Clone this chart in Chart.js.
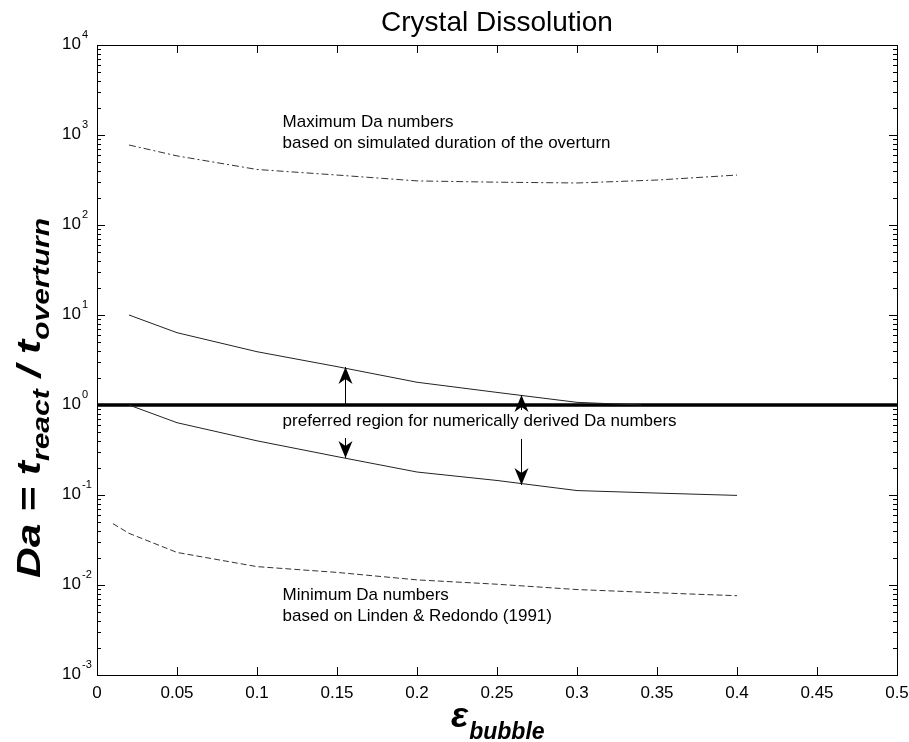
<!DOCTYPE html>
<html><head><meta charset="utf-8">
<script src="https://cdn.jsdelivr.net/npm/chart.js@4/dist/chart.umd.min.js"></script>
<style>html,body{margin:0;padding:0;background:#fff;overflow:hidden}</style>
</head><body>
<canvas id="c" width="909" height="742"></canvas>
<script>
// ---- data ----
const xTickLabels = ['0','0.05','0.1','0.15','0.2','0.25','0.3','0.35','0.4','0.45','0.5'];
const yTickValues = [1e-3,1e-2,1e-1,1e0,1e1,1e2,1e3,1e4];
const yTickExponents = ['-3','-2','-1','0','1','2','3','4'];

const xMax = [0.02,0.05,0.1,0.15,0.2,0.25,0.3,0.35,0.4];
const daMax = [774,586,414,359,309,299,293,316,359];

const xUpper = [0.02,0.05,0.1,0.15,0.2,0.25,0.3,0.34];
const daUpper = [10,6.36,3.91,2.67,1.79,1.38,1.07,1.0];

const xLower = [0.02,0.05,0.1,0.15,0.2,0.25,0.3,0.35,0.4];
const daLower = [1.0,0.636,0.40,0.267,0.18,0.145,0.112,0.105,0.099];

const xMin = [0.01,0.02,0.05,0.1,0.15,0.2,0.25,0.3,0.35,0.4];
const daMin = [0.048,0.0375,0.023,0.016,0.0138,0.0114,0.0102,0.0089,0.0082,0.0076];

const xUnity = [0,0.5];
const daUnity = [1,1];

// arrows: x position, start value, tip value
const arrowX = [0.155,0.155,0.265,0.265];
const arrowFrom = [1.0,0.43,0.88,0.42];
const arrowTo = [2.64,0.258,1.29,0.129];

const titleText = 'Crystal Dissolution';
const noteMaxLines = ['Maximum Da numbers','based on simulated duration of the overturn'];
const noteMidLines = ['preferred region for numerically derived Da numbers'];
const noteMinLines = ['Minimum Da numbers','based on Linden & Redondo (1991)'];

// ---- helpers ----
const pts = (xs, ys) => xs.map((x, i) => ({x, y: ys[i]}));
const FONT = '"Liberation Sans", Arial, Helvetica, sans-serif';

const notes = [
  {lines: noteMaxLines, x: 0.116, y: 1400},
  {lines: noteMidLines, x: 0.116, y: 0.665},
  {lines: noteMinLines, x: 0.116, y: 0.0077}
];

const decor = {
  id: 'decor',
  afterDatasetsDraw(chart) {
    const ctx = chart.ctx;
    const a = chart.chartArea;
    const xs = chart.scales.x, ys = chart.scales.y;
    ctx.save();
    ctx.strokeStyle = '#000';
    ctx.fillStyle = '#000';
    ctx.lineWidth = 1;

    // box
    ctx.strokeRect(Math.round(a.left) + 0.5, Math.round(a.top) + 0.5,
                   Math.round(a.right - a.left), Math.round(a.bottom - a.top));

    // x ticks (inward, top and bottom)
    ctx.beginPath();
    for (let i = 0; i < xTickLabels.length; i++) {
      const px = Math.round(xs.getPixelForValue(i * 0.05)) + 0.5;
      ctx.moveTo(px, a.bottom); ctx.lineTo(px, a.bottom - 8);
      ctx.moveTo(px, a.top); ctx.lineTo(px, a.top + 8);
    }
    // y ticks major + minor
    for (let d = -3; d <= 4; d++) {
      const py = Math.round(ys.getPixelForValue(Math.pow(10, d))) + 0.5;
      ctx.moveTo(a.left, py); ctx.lineTo(a.left + 8, py);
      ctx.moveTo(a.right, py); ctx.lineTo(a.right - 8, py);
      if (d < 4) {
        for (let m = 2; m <= 9; m++) {
          const pm = Math.round(ys.getPixelForValue(m * Math.pow(10, d))) + 0.5;
          ctx.moveTo(a.left, pm); ctx.lineTo(a.left + 4, pm);
          ctx.moveTo(a.right, pm); ctx.lineTo(a.right - 4, pm);
        }
      }
    }
    ctx.stroke();

    // y tick labels 10^n
    for (let i = 0; i < yTickValues.length; i++) {
      const py = ys.getPixelForValue(yTickValues[i]);
      ctx.font = '17px ' + FONT;
      ctx.textAlign = 'right';
      ctx.textBaseline = 'middle';
      ctx.fillText('10', 81, py - 1);
      ctx.font = '11px ' + FONT;
      ctx.textAlign = 'left';
      ctx.fillText(yTickExponents[i], 82, py - 10);
    }

    // arrows
    for (let i = 0; i < arrowX.length; i++) {
      const px = Math.round(xs.getPixelForValue(arrowX[i])) + 0.5;
      const y0 = ys.getPixelForValue(arrowFrom[i]);
      const y1 = ys.getPixelForValue(arrowTo[i]);
      const dir = y1 < y0 ? -1 : 1;
      ctx.beginPath();
      ctx.moveTo(px, y0); ctx.lineTo(px, y1);
      ctx.stroke();
      const L = 17, W = 7, N = 5;
      ctx.beginPath();
      ctx.moveTo(px, y1);
      ctx.lineTo(px - W, y1 - dir * L);
      ctx.lineTo(px, y1 - dir * (L - N));
      ctx.lineTo(px + W, y1 - dir * L);
      ctx.closePath();
      ctx.fill();
    }

    // notes
    ctx.font = '17px ' + FONT;
    ctx.textAlign = 'left';
    ctx.textBaseline = 'middle';
    for (const n of notes) {
      const px = xs.getPixelForValue(n.x);
      const py = ys.getPixelForValue(n.y);
      n.lines.forEach((t, k) => ctx.fillText(t, px, py + k * 21));
    }

    // title
    ctx.font = '28px ' + FONT;
    ctx.textAlign = 'center';
    ctx.textBaseline = 'middle';
    ctx.fillText(titleText, (a.left + a.right) / 2, 23);

    // x axis title: epsilon_bubble
    ctx.textAlign = 'left';
    ctx.textBaseline = 'alphabetic';
    const mainX = 'bold italic 36px ' + FONT, subX = 'bold italic 23px ' + FONT;
    ctx.font = mainX; const wE = ctx.measureText('\u03b5').width;
    ctx.font = subX; const wB = ctx.measureText('bubble').width;
    let sx = 451;
    ctx.font = mainX; ctx.fillText('\u03b5', sx, 727);
    ctx.font = subX; ctx.fillText('bubble', sx + wE + 1, 739);

    // y axis title: Da = t_react / t_overturn
    const segs = [
      {t: 'Da = t', f: 'bold italic 34px ' + FONT, dy: 0},
      {t: 'react', f: 'bold italic 24px ' + FONT, dy: 9},
      {t: ' / t', f: 'bold italic 34px ' + FONT, dy: 0},
      {t: 'overturn', f: 'bold italic 24px ' + FONT, dy: 9}
    ];
    let total = 0;
    segs.forEach(s => { ctx.font = s.f; s.w = ctx.measureText(s.t).width; total += s.w; });
    const targetLen = 360;
    const stretch = targetLen / total;
    ctx.translate(40, 398);
    ctx.rotate(-Math.PI / 2);
    ctx.scale(stretch, 1);
    let cx = -total / 2;
    segs.forEach(s => { ctx.font = s.f; ctx.fillText(s.t, cx, s.dy); cx += s.w; });
    ctx.restore();
  }
};

new Chart(document.getElementById('c'), {
  type: 'line',
  data: {
    datasets: [
      {label: 'Maximum Da', data: pts(xMax, daMax), borderColor: '#333', borderWidth: 1, borderDash: [7,3,2,3], pointRadius: 0, fill: false},
      {label: 'Upper bound', data: pts(xUpper, daUpper), borderColor: '#222', borderWidth: 1, pointRadius: 0, fill: false},
      {label: 'Lower bound', data: pts(xLower, daLower), borderColor: '#222', borderWidth: 1, pointRadius: 0, fill: false},
      {label: 'Minimum Da', data: pts(xMin, daMin), borderColor: '#333', borderWidth: 1, borderDash: [6,3], pointRadius: 0, fill: false},
      {label: 'Da = 1', data: pts(xUnity, daUnity), borderColor: '#000', borderWidth: 3.5, pointRadius: 0, fill: false}
    ]
  },
  options: {
    responsive: false,
    animation: false,
    devicePixelRatio: 1,
    layout: {padding: {top: 45, left: 97, right: 12, bottom: 0}},
    plugins: {legend: {display: false}, title: {display: false}, tooltip: {enabled: false}},
    scales: {
      x: {
        type: 'linear', min: 0, max: 0.5,
        grid: {display: false, drawTicks: false},
        border: {display: false},
        ticks: {
          stepSize: 0.05, autoSkip: false, maxRotation: 0, padding: 8,
          color: '#000', font: {family: FONT, size: 17},
          callback: (v, i) => xTickLabels[i]
        },
        afterFit: s => { s.height = 67; s.paddingLeft = 0; s.paddingRight = 0; }
      },
      y: {
        type: 'logarithmic', min: 1e-3, max: 1e4,
        grid: {display: false, drawTicks: false},
        border: {display: false},
        ticks: {display: false},
        afterFit: s => { s.width = 0; }
      }
    }
  },
  plugins: [decor]
});
</script>
</body></html>
